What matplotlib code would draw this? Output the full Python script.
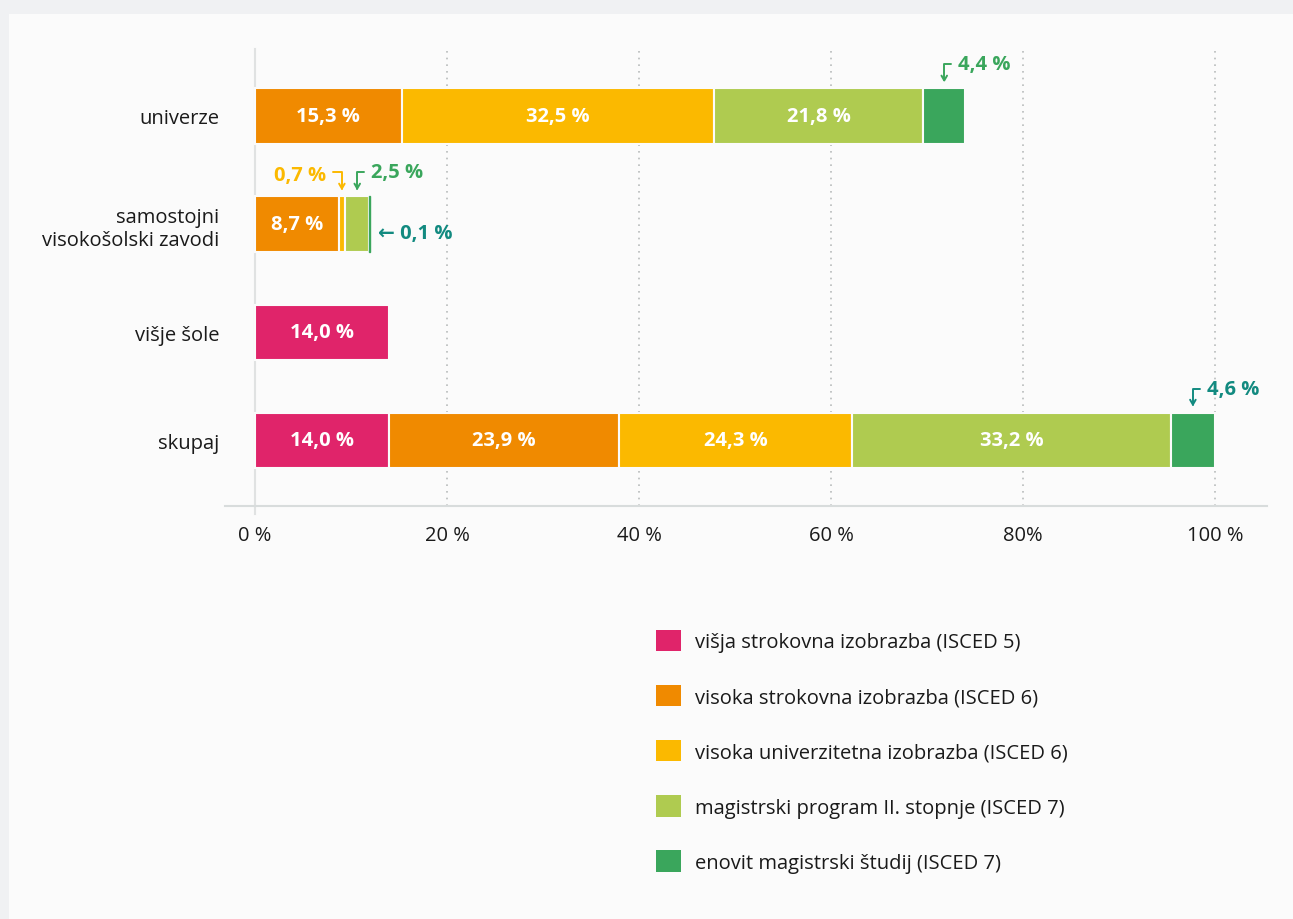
import matplotlib
matplotlib.use('Agg')
import matplotlib.pyplot as plt
from matplotlib.patches import Rectangle, Patch

plt.rcParams['font.family'] = ['Open Sans', 'DejaVu Sans']

rows = ['univerze', 'samostojni\nvisokošolski zavodi', 'višje šole', 'skupaj']
series = ['višja strokovna izobrazba (ISCED 5)',
          'visoka strokovna izobrazba (ISCED 6)',
          'visoka univerzitetna izobrazba (ISCED 6)',
          'magistrski program II. stopnje (ISCED 7)',
          'enovit magistrski študij (ISCED 7)']
colors = ['#e0246a', '#f08a00', '#fbb900', '#afcb50', '#3aa65c']
values = [
    [0.0, 15.3, 32.5, 21.8, 4.4],
    [0.0, 8.7, 0.7, 2.5, 0.1],
    [14.0, 0.0, 0.0, 0.0, 0.0],
    [14.0, 23.9, 24.3, 33.2, 4.6],
]
xticks = [0, 20, 40, 60, 80, 100]
xticklabels = ['0 %', '20 %', '40 %', '60 %', '80%', '100 %']

PX = 0.72  # points per pixel at dpi 100
FS = 14.5
bg = '#fbfbfb'
teal = '#128a80'

fig = plt.figure(figsize=(12.93, 9.2), dpi=100)
fig.patch.set_facecolor('#f0f1f3')
fig.add_artist(Rectangle((9 / 1293, 0), 1, 1 - 15 / 920, transform=fig.transFigure,
                         facecolor=bg, edgecolor='none', zorder=0))

ax = fig.add_axes([225 / 1293, 1 - 507 / 920, 1042 / 1293, 457 / 920])
ax.set_facecolor('none')
ax.set_xlim(-3.125, 105.42)
ax.set_ylim(3.61, -0.62)

bh = 0.51
for i, row in enumerate(values):
    left = 0.0
    for j, v in enumerate(row):
        if v > 0:
            if v < 0.5:
                ax.barh(i, v, left=left, height=bh, color=colors[j], edgecolor=colors[j],
                        linewidth=1.0, zorder=3)
            else:
                ax.barh(i, v, left=left, height=bh, color=colors[j], edgecolor=bg,
                        linewidth=1.5, zorder=3)
            if v >= 5:
                ax.text(left + v / 2, i, f'{v:.1f} %'.replace('.', ','), ha='center', va='center',
                        color='white', fontsize=FS, fontweight='bold', zorder=4)
        left += v

# small-segment callouts
arrow_kw = dict(arrowstyle='->,head_length=0.35,head_width=0.2', lw=1.4, shrinkA=0, shrinkB=6 * PX,
                connectionstyle='angle,angleA=0,angleB=90,rad=0')


def callout(row, seg, color, side):
    v = values[row][seg]
    cx = sum(values[row][:seg]) + v / 2
    top = row - bh / 2
    dx = -9 if side == 'left' else 7
    ax.annotate('', xy=(cx, top), xytext=(dx * PX, 24 * PX), textcoords='offset points',
                arrowprops=dict(color=color, **arrow_kw), zorder=5)
    txt = f'{v:.1f} %'.replace('.', ',')
    if side == 'left':
        ax.annotate(txt, xy=(cx, top), xytext=(-16 * PX, 21 * PX), textcoords='offset points',
                    ha='right', va='center', color=color, fontsize=FS, fontweight='bold')
    else:
        ax.annotate(txt, xy=(cx, top), xytext=(14 * PX, 24 * PX), textcoords='offset points',
                    ha='left', va='center', color=color, fontsize=FS, fontweight='bold')


callout(0, 4, '#3aa65c', 'right')
callout(1, 2, '#fbb900', 'left')
callout(1, 3, '#3aa65c', 'right')
callout(3, 4, teal, 'right')

tot1 = sum(values[1])
ax.annotate('← ' + f'{values[1][4]:.1f} %'.replace('.', ','), xy=(tot1, 1 + 0.08),
            xytext=(8 * PX, 0), textcoords='offset points', ha='left', va='center',
            color=teal, fontsize=FS, fontweight='bold')

# grid and axes
for x in xticks[1:]:
    ax.axvline(x, color='#b8bcbc', linestyle=(0, (1, 3)), lw=1.2, zorder=1)
ax.plot([0, 0], [-0.62, 3.68], color='#e0e2e2', lw=1.5, clip_on=False, zorder=2)
for s in ['top', 'right', 'left']:
    ax.spines[s].set_visible(False)
ax.spines['bottom'].set_color('#d8dcdc')
ax.spines['bottom'].set_linewidth(1.5)

ax.set_xticks(xticks)
ax.set_xticklabels(xticklabels, fontsize=FS, color='#1a1a1a')
ax.tick_params(axis='x', length=0, pad=14)
ax.set_yticks(range(len(rows)))
ax.set_yticklabels(rows, fontsize=FS, color='#1a1a1a', linespacing=1.2)
ax.tick_params(axis='y', length=0, pad=4)

handles = [Patch(facecolor=c, edgecolor='none') for c in colors]
fig.legend(handles, series, loc='upper left', bbox_to_anchor=(646 / 1293, 1 - 621 / 920),
           frameon=False, fontsize=FS, handlelength=1.25, handleheight=1.25,
           handletextpad=0.7, labelspacing=1.62, borderpad=0, labelcolor='#1a1a1a')

fig.savefig('out.png', dpi=100, facecolor=fig.get_facecolor())
